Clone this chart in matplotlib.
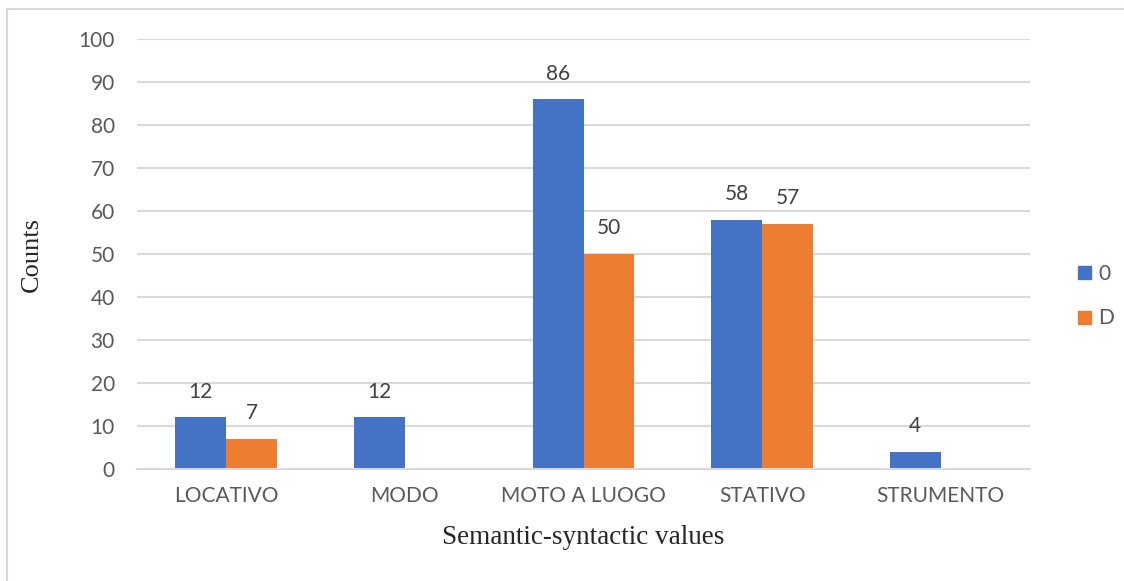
import numpy as np
import matplotlib.pyplot as plt
from matplotlib.patches import Patch
from matplotlib.lines import Line2D

categories = ["LOCATIVO", "MODO", "MOTO A LUOGO", "STATIVO", "STRUMENTO"]
series_names = ["0", "D"]
values_0 = [12, 12, 86, 58, 4]
values_d = [7, None, 50, 57, None]

blue = "#4472C4"
orange = "#ED7D31"
grid_col = "#D9D9D9"
txt_col = "#595959"

plt.rcParams["font.family"] = ["Lato", "DejaVu Sans"]

fig = plt.figure(figsize=(11.24, 5.81), dpi=100)
ax = fig.add_axes([137 / 1124, 1 - 469 / 581, (1030 - 137) / 1124, (469 - 39) / 581])

x = np.arange(len(categories))
w = 0.285

for vals, off, col in [(values_0, -w / 2, blue), (values_d, w / 2, orange)]:
    for xi, v in zip(x, vals):
        if v is None:
            continue
        ax.bar(xi + off, v, width=w, color=col, zorder=3)
        ax.annotate(str(v), (xi + off, v), xytext=(0, 18.5), textcoords="offset points",
                    ha="center", va="center", fontsize=15, color="#404040")

ax.set_xlim(-0.5, len(categories) - 0.5)
ax.set_ylim(0, 100)
ax.set_yticks(range(0, 101, 10))
ax.set_xticks(x)
ax.set_xticklabels(categories)
ax.tick_params(axis="both", length=0, labelsize=15, labelcolor=txt_col)
ax.tick_params(axis="y", pad=16)
ax.tick_params(axis="x", pad=12)
ax.grid(axis="y", color=grid_col, linewidth=1.5, zorder=0)
for s in ["top", "right", "left"]:
    ax.spines[s].set_visible(False)
ax.spines["bottom"].set_color(grid_col)
ax.spines["bottom"].set_linewidth(1.5)
ax.spines["bottom"].set_zorder(4)

fig.text(32 / 1124, 1 - 254 / 581, "Counts", rotation=90, ha="center", va="center",
         fontsize=19, family="Liberation Serif", color="#262626")
fig.text(583 / 1124, 1 - 537 / 581, "Semantic-syntactic values", ha="center", va="center",
         fontsize=19.5, family="Liberation Serif", color="#262626")

handles = [Patch(color=blue), Patch(color=orange)]
fig.legend(handles, series_names, loc="center left", bbox_to_anchor=(1068 / 1124, 1 - 296 / 581),
           frameon=False, fontsize=15, labelcolor=txt_col, handlelength=0.6, handleheight=0.6,
           handletextpad=0.35, labelspacing=1.2, borderpad=0)

# chart border (only top and left edges are visible in the crop)
fig.add_artist(Line2D([7 / 1124, 1], [1 - 9 / 581, 1 - 9 / 581], color=grid_col, linewidth=1.5))
fig.add_artist(Line2D([7 / 1124, 7 / 1124], [0, 1 - 9 / 581], color=grid_col, linewidth=1.5))

fig.savefig("out.png", dpi=100, facecolor="white")
